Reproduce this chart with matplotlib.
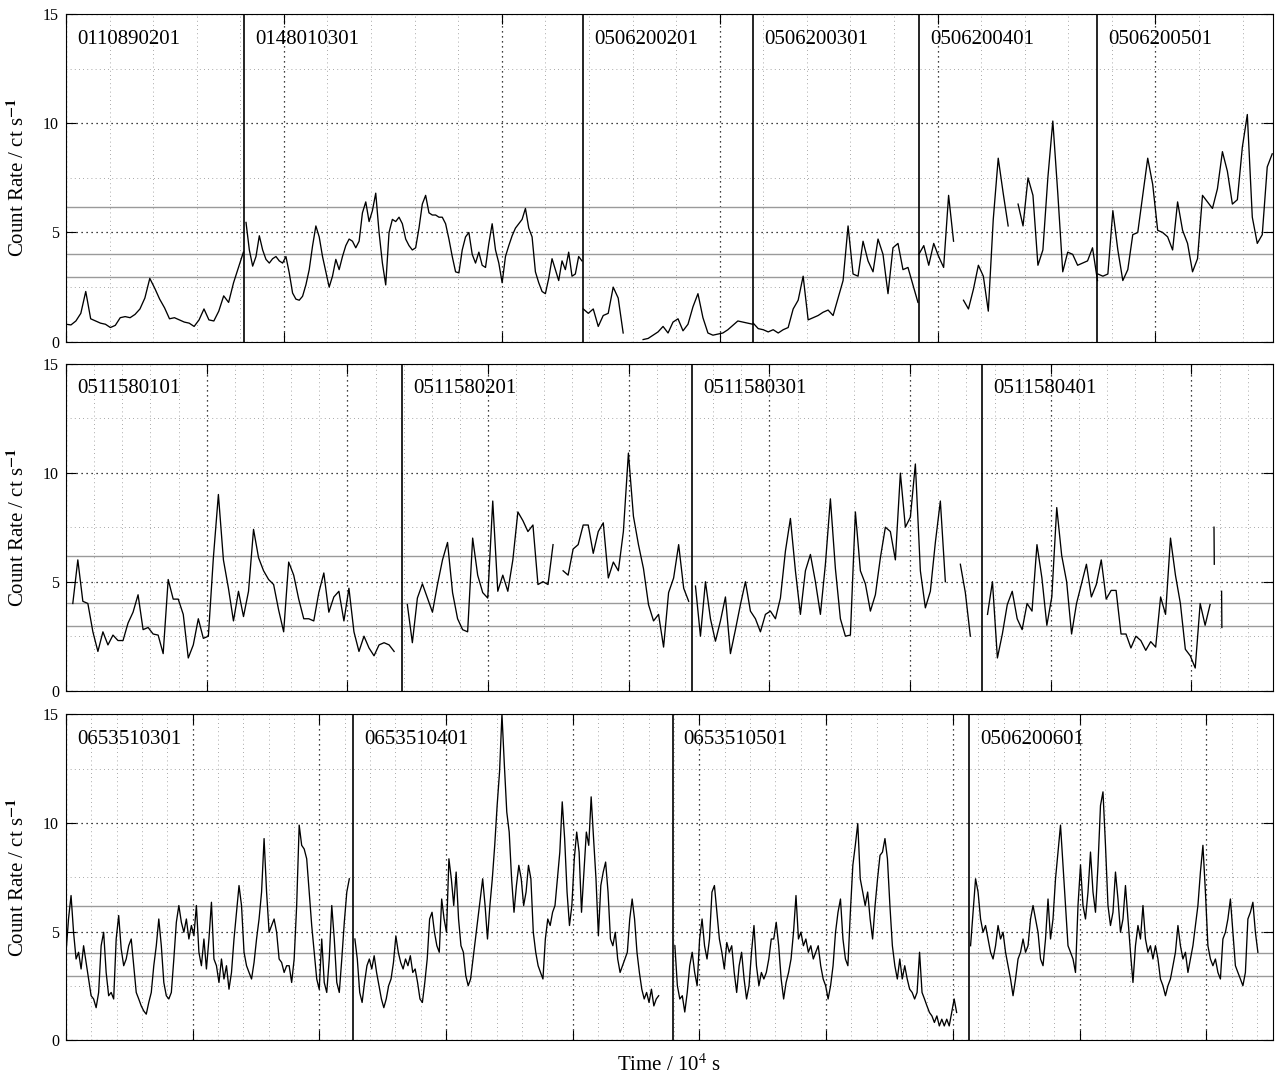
import numpy as np
import matplotlib.pyplot as plt
from matplotlib.ticker import MultipleLocator

plt.rcParams['font.family'] = ['Liberation Serif', 'DejaVu Serif']
plt.rcParams['mathtext.fontset'] = 'stix'

nan = np.nan

lc_0110890201 = [0.8, 0.77, 0.95, 1.3, 2.3, 1.05, 0.95, 0.85, 0.8, 0.65, 0.75, 1.1, 1.15, 1.1, 1.25,
                 1.5, 2.0, 2.9, 2.45, 1.95, 1.55, 1.05, 1.1, 1.0, 0.9, 0.85, 0.7, 1.0, 1.5, 1.0, 0.95,
                 1.4, 2.1, 1.8, 2.7, 3.4, 4.1]
lc_0148010301 = [5.46, 4.2, 3.46, 3.9, 4.85, 4.2, 3.77, 3.6, 3.8, 3.9, 3.7, 3.6, 3.9, 3.15, 2.23, 1.95,
                 1.9, 2.08, 2.6, 3.3, 4.38, 5.3, 4.8, 3.9, 3.2, 2.5, 3.0, 3.77, 3.3, 3.9, 4.4, 4.7, 4.6,
                 4.3, 4.6, 5.9, 6.4, 5.5, 6.0, 6.8, 5.0, 3.6, 2.6, 5.0, 5.6, 5.5, 5.7, 5.4, 4.7, 4.4,
                 4.2, 4.3, 5.2, 6.3, 6.7, 5.9, 5.8, 5.8, 5.7, 5.7, 5.4, 4.7, 3.9, 3.2, 3.15,
                 4.2, 4.8, 5.0, 4.0, 3.6, 4.1, 3.5, 3.4, 4.5, 5.4, 4.2, 3.6, 2.7, 3.9, 4.4, 4.85, 5.2,
                 5.4, 5.6, 6.1, 5.2, 4.8, 3.2, 2.7, 2.3, 2.2, 2.9, 3.8, 3.3, 2.8, 3.7, 3.3, 4.1, 3.0,
                 3.1, 3.9, 3.7]
lc_0506200201 = [1.5, 1.3, 1.5, 0.7, 1.2, 1.3, 2.5, 2.0, 0.4, nan, nan, nan, 0.1, 0.15, 0.3, 0.45,
                 0.7, 0.4, 0.9, 1.05, 0.5, 0.8, 1.6, 2.2, 1.1, 0.4, 0.3, 0.35, 0.4, 0.55, 0.75, 0.95,
                 0.9, 0.85, 0.8]
lc_0506200301 = [0.85, 0.6, 0.55, 0.45, 0.55, 0.4, 0.55, 0.65, 1.5, 1.9, 3.0, 1.0, 1.1, 1.2, 1.35,
                 1.45, 1.2, 2.0, 2.8, 5.3, 3.1, 3.0, 4.6, 3.7, 3.2, 4.7, 4.0, 2.2, 4.3, 4.5, 3.3, 3.4,
                 2.6, 1.8]
lc_0506200401 = [4.0, 4.4, 3.5, 4.5, 3.9, 3.4, 6.7, 4.6, nan, 1.9, 1.5, 2.4, 3.5, 3.0, 1.4, 5.6, 8.4,
                 6.8, 5.3, nan, 6.3, 5.3, 7.5, 6.7, 3.5, 4.2, 7.5, 10.1, 6.8, 3.2, 4.1, 4.0, 3.5, 3.6,
                 3.7, 4.3, 2.8]
lc_0506200501 = [3.1, 3.0, 3.1, 6.0, 4.2, 2.8, 3.3, 4.9, 5.0, 6.7, 8.4, 7.2, 5.1, 5.0, 4.8, 4.2, 6.4,
                 5.1, 4.5, 3.2, 3.8, 6.7, 6.4, 6.1, 7.0, 8.7, 7.8, 6.3, 6.5, 8.9, 10.4, 5.7, 4.5, 4.9,
                 8.0, 8.6]

lc_0511580101 = [4.0, 6.0, 4.1, 4.0, 2.7, 1.8, 2.7, 2.1, 2.55, 2.3, 2.3, 3.1, 3.6, 4.4, 2.8, 2.9, 2.6,
                 2.55, 1.7, 5.1, 4.2, 4.2, 3.5, 1.5, 2.1, 3.3, 2.4, 2.5, 6.1, 9.0, 6.0, 4.7, 3.2, 4.56,
                 3.4, 4.56, 7.4, 6.1, 5.5, 5.1, 4.87, 3.7, 2.7, 5.9, 5.3, 4.2, 3.3, 3.3, 3.2, 4.5, 5.4,
                 3.6, 4.3, 4.56, 3.2, 4.7, 2.7, 1.8, 2.5, 1.96, 1.6, 2.1, 2.2, 2.1, 1.8]
lc_0511580201 = [3.95, 2.2, 4.25, 4.9, 4.25, 3.6, 4.87, 6.0, 6.8, 4.5, 3.3, 2.8, 2.7,
                 7.0, 5.3, 4.5, 4.25, 8.7, 4.56, 5.3, 4.56, 6.0, 8.2, 7.8, 7.3, 7.6, 4.87, 5.0, 4.87,
                 6.7, nan, 5.5, 5.3, 6.5, 6.7, 7.6, 7.6, 6.3, 7.3, 7.7, 5.17, 5.9, 5.5, 7.3, 10.9, 8.0,
                 6.7, 5.6, 3.95, 3.2, 3.5, 2.0, 4.5, 5.17, 6.7, 4.7, 4.1]
lc_0511580301 = [4.8, 2.5, 5.0, 3.3, 2.27, 3.2, 4.3, 1.7, 2.8, 3.95, 5.0, 3.65, 3.3, 2.7, 3.5, 3.65,
                 3.3, 4.25, 6.4, 7.9, 5.5, 3.5, 5.5, 6.25, 5.0, 3.5, 5.8, 8.8, 5.6, 3.3, 2.5, 2.55, 8.2,
                 5.5, 4.9, 3.65, 4.4, 6.1, 7.5, 7.3, 6.0, 9.98, 7.5, 7.96, 10.4, 5.5, 3.8, 4.56, 6.8,
                 8.7, 5.0, nan, nan, 5.8, 4.5, 2.5]
lc_0511580401 = [3.5, 5.0, 1.5, 2.6, 3.95, 4.56, 3.3, 2.8, 4.0, 3.65, 6.7, 5.17, 3.0, 4.3, 8.4, 6.2,
                 5.0, 2.6, 4.0, 4.9, 5.8, 4.3, 4.87, 6.0, 4.2, 4.6, 4.6, 2.6, 2.6, 1.96, 2.5, 2.3, 1.85,
                 2.25, 2.0, 4.3, 3.5, 7.0, 5.3, 4.0, 1.9, 1.6, 1.04, 4.0, 3.0, 3.95]
# two short isolated pieces after the end of 0511580401
frag_t = [[40.80, 40.81], [41.07, 41.08]]
frag_rate = [[7.5, 5.8], [4.56, 2.9]]

lc_0653510301 = [4.05, 5.6, 6.66, 4.97, 3.74, 4.05, 3.28, 4.35, 3.58, 2.82, 2.05, 1.9, 1.5, 2.2, 4.35,
                 4.97, 3.12, 2.05, 2.2, 1.9, 4.66, 5.74, 4.2, 3.43, 3.74, 4.35, 4.66, 3.43, 2.2, 1.9,
                 1.58, 1.35, 1.2, 1.74, 2.2, 3.43, 4.35, 5.58, 4.35, 2.66, 2.05, 1.9, 2.2, 3.74, 5.43,
                 6.2, 5.43, 4.97, 5.58, 4.66, 5.28, 4.81, 6.2, 4.05, 3.43, 4.66, 3.28, 4.66, 6.35, 3.74,
                 3.43, 2.66, 3.74, 2.82, 3.43, 2.35, 3.12, 4.66, 5.89, 7.12, 6.2, 4.05, 3.43, 3.12,
                 2.82, 3.58, 4.66, 5.58, 6.82, 9.28, 6.82, 4.97, 5.28, 5.58, 4.97, 3.74, 3.58, 3.12,
                 3.43, 3.43, 2.66, 3.74, 6.2, 9.9, 8.97, 8.8, 8.35, 6.82, 5.28, 4.05, 2.82, 2.35, 4.66,
                 2.66, 2.2, 3.74, 6.2, 4.66, 2.66, 2.2, 3.74, 5.43, 6.82, 7.43]
lc_0653510401 = [4.66, 3.74, 2.2, 1.74, 2.66, 3.43, 3.74, 3.28, 3.89, 3.12, 2.51, 1.9, 1.5, 1.9, 2.51,
                 2.82, 3.58, 4.8, 4.05, 3.58, 3.28, 3.74, 3.43, 3.89, 3.12, 3.28, 2.66, 1.9, 1.74, 2.66,
                 3.74, 5.58, 5.89, 4.97, 4.35, 4.05, 6.5, 5.58, 4.97, 8.35, 7.43, 6.2, 7.74, 5.58, 4.35,
                 4.05,
                 2.97, 2.51, 2.82, 3.74, 4.66, 5.58, 6.5, 7.43, 6.2, 4.66, 6.2, 7.43, 8.97, 10.8, 12.35,
                 15.0, 12.66, 10.5, 9.58, 7.43, 5.89, 7.12, 8.05, 7.43, 6.2, 6.82, 8.05, 7.43, 4.97,
                 4.05, 3.43, 3.12, 2.82, 4.66, 5.58, 5.28, 5.89, 6.2, 7.43, 8.66, 10.97, 9.28, 6.82,
                 5.28, 6.2, 8.35, 9.58, 8.66, 5.89, 7.74, 9.58, 8.97, 11.2, 9.28, 7.43, 4.81, 7.12,
                 7.74, 8.2, 6.82, 4.66, 4.35, 4.97, 3.74, 3.12, 3.43, 3.74, 4.05, 5.58, 6.5, 5.58, 4.05,
                 3.12, 2.35, 1.9, 2.2, 1.74, 2.35, 1.58, 1.9, 2.05]
lc_0653510501 = [4.35, 2.51, 1.9, 2.05, 1.3, 2.2, 3.43, 4.05, 3.12, 2.51, 4.66, 5.58, 4.35, 3.74, 4.66,
                 6.82, 7.12, 5.89, 4.66, 4.05, 3.28, 4.5, 4.05, 4.35, 3.12, 2.2, 3.43, 4.05, 2.82, 1.9,
                 2.51, 4.05, 5.28, 3.43, 2.51, 3.12, 2.82, 3.12, 3.74, 4.66, 4.66, 5.43, 4.35, 2.82,
                 1.9, 2.66, 3.12, 3.74, 4.97, 6.66, 4.66, 4.97, 4.35, 4.66, 4.05, 4.35, 3.74, 4.05,
                 4.35, 3.43, 2.82, 2.51, 1.9, 2.51, 3.43, 4.97, 5.89, 6.5, 4.66, 3.74, 3.43, 5.89, 8.05,
                 8.97, 9.97, 7.43, 6.82, 6.2, 6.82,
                 5.58, 4.66, 6.2, 7.43, 8.51, 8.66, 9.28, 8.35, 6.2, 4.35, 3.43, 2.82, 3.74, 2.82, 3.43,
                 2.82, 2.35, 2.2, 1.9, 2.2, 4.05, 2.2, 1.9, 1.58, 1.28, 1.12, 0.82, 1.12, 0.66, 0.97,
                 0.66, 0.97, 0.66, 1.28, 1.9, 1.28]
lc_0506200601 = [4.35, 5.89, 7.43, 6.82, 5.58, 4.97, 5.28, 4.66, 4.05, 3.74, 4.35, 5.28, 4.66, 4.97,
                 4.05, 3.43, 2.82, 2.05, 2.82, 3.74, 4.05, 4.66, 4.05, 4.35, 5.58, 6.2, 5.58, 4.97, 3.74,
                 3.43, 4.66, 6.5, 4.66, 5.58, 7.43, 8.66, 9.9, 8.05, 6.2, 4.35, 4.05, 3.74, 3.12, 6.2,
                 8.05, 6.2, 5.58, 6.82, 8.66, 6.82, 5.89, 8.05, 10.8, 11.43, 8.97, 6.2, 5.28, 5.89,
                 7.74, 6.5, 4.97, 5.58, 7.12, 5.58, 4.05, 2.66, 4.35, 5.28, 4.66, 6.2, 4.66, 4.05, 4.35,
                 3.74, 4.35, 3.74, 2.82, 2.51, 2.05, 2.51, 2.82, 3.43, 4.05, 5.28, 4.35, 3.74, 4.05,
                 3.12, 3.74, 4.35, 5.28, 6.2, 7.74, 8.97, 6.82, 4.35, 3.74, 3.43, 3.74, 3.12, 2.82,
                 4.66, 4.97, 5.58, 6.5, 4.97, 3.43, 3.12, 2.82, 2.51, 3.12, 5.58, 5.89, 6.35, 4.97,
                 4.05]

# observation ids, boundaries and data spans per panel (time in 10^4 s)
top_ids = ['0110890201', '0148010301', '0506200201', '0506200301', '0506200401', '0506200501']
top_edges = [4.09, 11.86, 15.76, 19.57, 23.67]
top_spans = [(0.0, 4.07), (4.13, 11.84), (11.87, 15.76), (15.77, 19.55), (19.57, 23.67), (23.68, 27.68)]
top_curves = [lc_0110890201, lc_0148010301, lc_0506200201, lc_0506200301, lc_0506200401, lc_0506200501]
top_tmax = 27.7

mid_ids = ['0511580101', '0511580201', '0511580301', '0511580401']
mid_edges = [11.93, 22.25, 32.55]
mid_spans = [(0.24, 11.66), (12.13, 22.13), (22.37, 32.14), (32.75, 40.66)]
mid_curves = [lc_0511580101, lc_0511580201, lc_0511580301, lc_0511580401]
mid_tmax = 42.9

bot_ids = ['0653510301', '0653510401', '0653510501', '0506200601']
bot_edges = [11.34, 23.94, 35.65]
bot_spans = [(0.0, 11.18), (11.40, 23.39), (24.03, 35.15), (35.70, 47.04)]
bot_curves = [lc_0653510301, lc_0653510401, lc_0653510501, lc_0506200601]
bot_tmax = 47.64

levels = [2.97, 4.0, 6.16]

fig = plt.figure(figsize=(12.75, 10.77), dpi=100)
boxes = [[0.0518, 0.6827, 0.9467, 0.3043],
         [0.0518, 0.3587, 0.9467, 0.3036],
         [0.0518, 0.0341, 0.9467, 0.3027]]
panels = [(top_ids, top_edges, top_spans, top_curves, top_tmax),
          (mid_ids, mid_edges, mid_spans, mid_curves, mid_tmax),
          (bot_ids, bot_edges, bot_spans, bot_curves, bot_tmax)]

axes = []
for box, (ids, edges, spans, curves, tmax) in zip(boxes, panels):
    ax = fig.add_axes(box)
    axes.append(ax)
    for (t0, t1), rate in zip(spans, curves):
        t = np.linspace(t0, t1, len(rate))
        ax.plot(t, rate, color='k', lw=0.95, zorder=3)
    for y in levels:
        ax.axhline(y, color='#9a9a9a', lw=1.0, zorder=2)
    for x in edges:
        ax.axvline(x, color='k', lw=1.2, zorder=4)
    for x, name in zip([0.0] + edges, ids):
        ax.annotate(name, xy=(x, 15), xytext=(8, -18), textcoords='offset points',
                    fontsize=15, ha='left', va='center')
    ax.set_xlim(0, tmax)
    ax.set_ylim(0, 15)
    ax.xaxis.set_major_locator(MultipleLocator(5))
    ax.xaxis.set_minor_locator(MultipleLocator(1))
    ax.yaxis.set_major_locator(MultipleLocator(5))
    ax.yaxis.set_minor_locator(MultipleLocator(2.5))
    ax.set_axisbelow(True)
    ax.grid(which='major', color='k', ls=(0, (1, 3)), lw=0.9)
    ax.grid(which='minor', color='#8c8c8c', ls=(0, (1, 4)), lw=0.6)
    ax.tick_params(which='major', direction='in', length=7, top=True, right=True,
                   labelbottom=False, labelsize=11.5, pad=5)
    ax.tick_params(which='minor', length=0)
    ax.set_ylabel(r'Count Rate / ct s$^{\mathbf{-1}}$', fontsize=15)
    ax.yaxis.set_label_coords(-0.031, 0.5)

for t, rate in zip(frag_t, frag_rate):
    axes[1].plot(t, rate, color='k', lw=0.95, zorder=3)

fig.text(0.525, 0.0012, r'Time / 10$^4$ s', fontsize=15, ha='center', va='bottom')

fig.savefig('out.png', dpi=100)
